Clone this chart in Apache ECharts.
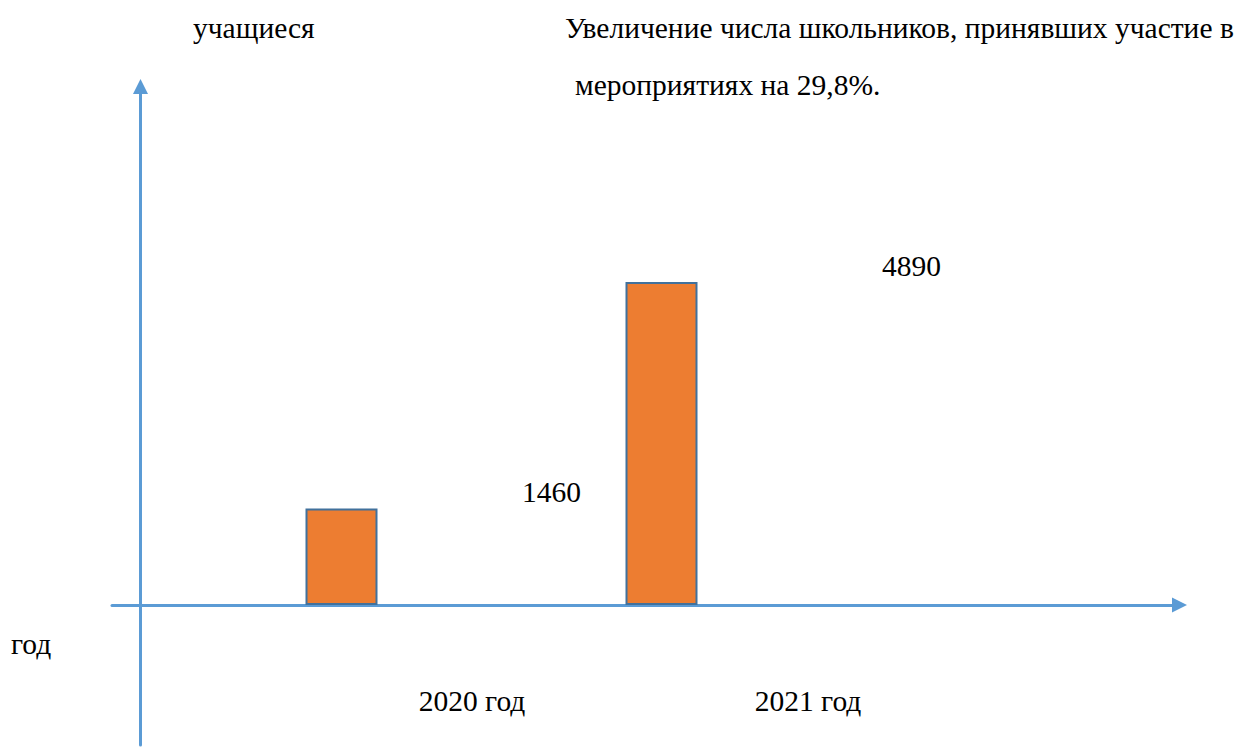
<!DOCTYPE html>
<html>
<head>
<meta charset="utf-8">
<script src="https://cdn.jsdelivr.net/npm/echarts@6/dist/echarts.min.js"></script>
<style>html,body{margin:0;padding:0;background:#fff}#c{width:1237px;height:754px}</style>
</head>
<body>
<div id="c"></div>
<script>
// ---- data ----
const categories = ['2020 год', '2021 год'];
const values = [1460, 4890];
const yAxisName = 'учащиеся';
const xAxisName = 'год';
const noteLine1 = 'Увеличение числа школьников, принявших участие в';
const noteLine2 = 'мероприятиях на 29,8%.';

// ---- style / layout ----
const FONT = '"Liberation Serif", "Times New Roman", serif';
const FS = 29.5;
const AXIS_COLOR = '#5B9BD5';
const BAR_COLOR = '#ED7D31';
const BAR_BORDER = '#41719C';
const Y_MIN = -2120, Y_MAX = 7850;
const gridTop = 86.5, gridHeight = 658.5;
const valueLabelOffsets = [[210, 3], [250, 4]];
const catLabelShift = [261, 293];

const txt = (extra) => Object.assign({ fontFamily: FONT, fontSize: FS, fontWeight: 'normal', color: '#000' }, extra || {});

const chart = echarts.init(document.getElementById('c'), null, { renderer: 'svg' });
chart.setOption({
  backgroundColor: '#fff',
  animation: false,
  textStyle: { fontFamily: FONT, fontSize: FS, color: '#000' },
  title: [
    { text: yAxisName, left: 193, top: 13, padding: 0, textStyle: txt() },
    { text: noteLine1, left: 565, top: 13, padding: 0, textStyle: txt() },
    { text: noteLine2, left: 575, top: 70, padding: 0, textStyle: txt() },
    { text: xAxisName, left: 11, top: 629, padding: 0, textStyle: txt() }
  ],
  grid: [
    { left: 112, top: gridTop, width: 1067.5, height: gridHeight, containLabel: false, outerBoundsMode: 'none' },
    { left: 181.5, top: gridTop, width: 640, height: gridHeight, containLabel: false, outerBoundsMode: 'none' }
  ],
  xAxis: [
    {
      gridIndex: 0, type: 'value', min: -28.5, max: 1039,
      axisLine: { show: true, onZero: true, symbol: ['none', 'triangle'], symbolSize: [15, 15],
        lineStyle: { color: AXIS_COLOR, width: 3 } },
      axisTick: { show: false }, axisLabel: { show: false }, splitLine: { show: false }
    },
    {
      gridIndex: 1, type: 'category', data: categories,
      axisLine: { show: false, onZero: false },
      axisTick: { show: false }, splitLine: { show: false },
      axisLabel: {
        show: true, interval: 0, margin: -59.5,
        fontFamily: FONT, fontSize: FS, color: '#000',
        formatter: (v, i) => '{c' + i + '|' + v + '}',
        rich: {
          c0: txt({ padding: [0, 0, 0, catLabelShift[0]] }),
          c1: txt({ padding: [0, 0, 0, catLabelShift[1]] })
        }
      }
    }
  ],
  yAxis: [
    {
      gridIndex: 0, type: 'value', min: Y_MIN, max: Y_MAX,
      axisLine: { show: true, onZero: true, symbol: ['none', 'triangle'], symbolSize: [15, 15],
        lineStyle: { color: AXIS_COLOR, width: 3 } },
      axisTick: { show: false }, axisLabel: { show: false }, splitLine: { show: false }
    },
    {
      gridIndex: 1, type: 'value', min: Y_MIN, max: Y_MAX,
      axisLine: { show: false }, axisTick: { show: false }, axisLabel: { show: false }, splitLine: { show: false }
    }
  ],
  series: [{
    type: 'bar', xAxisIndex: 1, yAxisIndex: 1, barWidth: 72,
    itemStyle: { color: BAR_COLOR, borderColor: BAR_BORDER, borderWidth: 2 },
    label: Object.assign({ show: true, position: 'top', formatter: '{c}' }, txt()),
    data: values.map((v, i) => ({ value: v, label: { offset: valueLabelOffsets[i] } }))
  }]
});
</script>
</body>
</html>
